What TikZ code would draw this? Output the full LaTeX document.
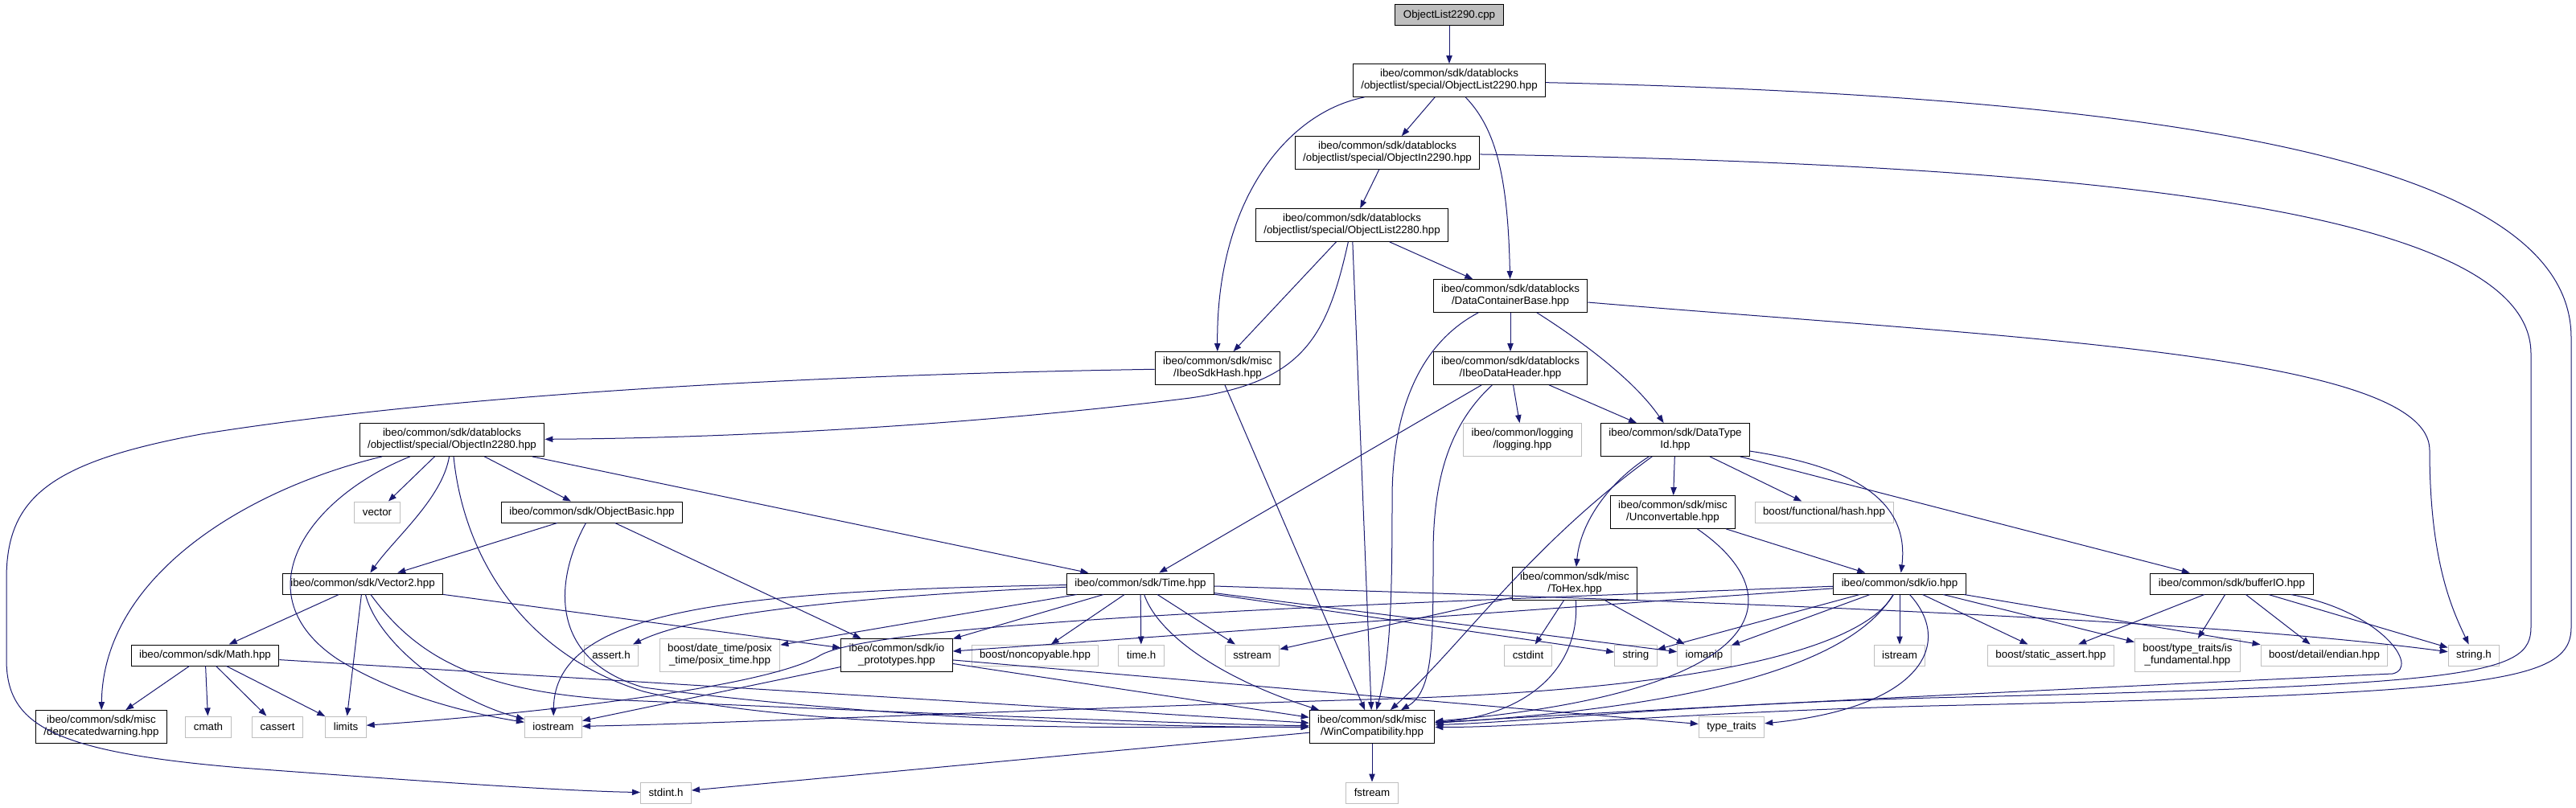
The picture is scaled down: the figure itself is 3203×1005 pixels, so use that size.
\documentclass[tikz,border=0pt]{standalone}
\usepackage{fontspec}
\setmainfont{Liberation Sans}
\usetikzlibrary{arrows.meta}
\definecolor{edgeblue}{HTML}{191970}
\definecolor{sysgray}{HTML}{BFBFBF}
\tikzstyle{hdr} = [rectangle, draw=black, fill=white, line width=0.75pt, align=center, inner xsep=7.5pt, inner ysep=5pt, minimum height=19.5pt, font=\fontsize{10}{11.25}\selectfont]
\tikzstyle{syshdr} = [hdr, draw=sysgray]
\tikzstyle{rootfile} = [hdr, fill=sysgray]
\tikzstyle{dep} = [draw=edgeblue, line width=0.75pt, -{Triangle[length=7.5pt,width=5.5pt]}]

\begin{document}
\begin{tikzpicture}[x=0.75pt, y=-0.75pt]
        \useasboundingbox (0,0) rectangle (3203,1005);
        \fill [white] (0,0) rectangle (3203,1005);

        \node (cpp) [rootfile] at (1802,19) {ObjectList2290.cpp};
        \node (ol2290) [hdr] at (1802,100) {ibeo/common/sdk/datablocks\\/objectlist/special/ObjectList2290.hpp};
        \node (oi2290) [hdr] at (1725,190) {ibeo/common/sdk/datablocks\\/objectlist/special/ObjectIn2290.hpp};
        \node (ol2280) [hdr] at (1681,280) {ibeo/common/sdk/datablocks\\/objectlist/special/ObjectList2280.hpp};
        \node (dcbase) [hdr] at (1878,368) {ibeo/common/sdk/datablocks\\/DataContainerBase.hpp};
        \node (sdkhash) [hdr] at (1514,458) {ibeo/common/sdk/misc\\/IbeoSdkHash.hpp};
        \node (dheader) [hdr] at (1878,458) {ibeo/common/sdk/datablocks\\/IbeoDataHeader.hpp};
        \node (logging) [syshdr] at (1893,547) {ibeo/common/logging\\/logging.hpp};
        \node (dtypeid) [hdr] at (2083,547) {ibeo/common/sdk/DataType\\Id.hpp};
        \node (oi2280) [hdr] at (562,547) {ibeo/common/sdk/datablocks\\/objectlist/special/ObjectIn2280.hpp};
        \node (vector) [syshdr] at (469,637) {vector};
        \node (objbasic) [hdr] at (736,637) {ibeo/common/sdk/ObjectBasic.hpp};
        \node (unconv) [hdr] at (2080,637) {ibeo/common/sdk/misc\\/Unconvertable.hpp};
        \node (fhash) [syshdr] at (2268,637) {boost/functional/hash.hpp};
        \node (vector2) [hdr] at (451,726) {ibeo/common/sdk/Vector2.hpp};
        \node (timehpp) [hdr] at (1418,726) {ibeo/common/sdk/Time.hpp};
        \node (tohex) [hdr] at (1958,726) {ibeo/common/sdk/misc\\/ToHex.hpp};
        \node (iohpp) [hdr] at (2362,726) {ibeo/common/sdk/io.hpp};
        \node (bufferio) [hdr] at (2775,726) {ibeo/common/sdk/bufferIO.hpp};
        \node (mathhpp) [hdr] at (255,815) {ibeo/common/sdk/Math.hpp};
        \node (asserth) [syshdr] at (760,815) {assert.h};
        \node (posixtime) [syshdr] at (895,815) {boost/date\_time/posix\\\_time/posix\_time.hpp};
        \node (ioproto) [hdr] at (1115,815) {ibeo/common/sdk/io\\\_prototypes.hpp};
        \node (noncopy) [syshdr] at (1287,815) {boost/noncopyable.hpp};
        \node (timeh) [syshdr] at (1419,815) {time.h};
        \node (sstream) [syshdr] at (1557,815) {sstream};
        \node (cstdint) [syshdr] at (1900,815) {cstdint};
        \node (string) [syshdr] at (2034,815) {string};
        \node (iomanip) [syshdr] at (2119,815) {iomanip};
        \node (istream) [syshdr] at (2362,815) {istream};
        \node (staticassert) [syshdr] at (2550,815) {boost/static\_assert.hpp};
        \node (isfund) [syshdr] at (2720,815) {boost/type\_traits/is\\\_fundamental.hpp};
        \node (endian) [syshdr] at (2890,815) {boost/detail/endian.hpp};
        \node (stringh) [syshdr] at (3076,815) {string.h};
        \node (deprec) [hdr] at (126,904) {ibeo/common/sdk/misc\\/deprecatedwarning.hpp};
        \node (cmath) [syshdr] at (259,904) {cmath};
        \node (cassert) [syshdr] at (345,904) {cassert};
        \node (limits) [syshdr] at (430,904) {limits};
        \node (iostream) [syshdr] at (688,904) {iostream};
        \node (wincompat) [hdr] at (1706,904) {ibeo/common/sdk/misc\\/WinCompatibility.hpp};
        \node (typetraits) [syshdr] at (2153,904) {type\_traits};
        \node (stdinth) [syshdr] at (828,986) {stdint.h};
        \node (fstream) [syshdr] at (1706,986) {fstream};

        \draw [dep] (cpp) -- (ol2290);
        \draw [dep] (ol2290) -- (oi2290);
        \draw [dep] (ol2290) .. controls (1600,140) and (1512,250) .. (sdkhash);
        \draw [dep] (ol2290) .. controls (1860,160) and (1875,220) .. (dcbase);
        \draw [dep] (ol2290) .. controls (2700,120) and (3197,200) .. (3197,420) -- (3197,780) .. controls (3197,850) and (3100,862) .. (2400,878) .. controls (2100,886) and (1900,905) .. (wincompat);
        \draw [dep] (oi2290) -- (ol2280);
        \draw [dep] (oi2290) .. controls (2600,205) and (3147,260) .. (3147,440) -- (3147,780) .. controls (3147,840) and (3080,852) .. (2400,868) .. controls (2100,876) and (1900,898) .. (wincompat);
        \draw [dep] (ol2280) -- (sdkhash);
        \draw [dep] (ol2280) -- (dcbase);
        \draw [dep] (ol2280) -- (wincompat);
        \draw [dep] (ol2280) .. controls (1650,420) and (1620,475) .. (1480,495) .. controls (1200,530) and (900,545) .. (oi2280);
        \draw [dep] (dcbase) -- (dheader);
        \draw [dep] (dcbase) .. controls (1960,420) and (2030,470) .. (dtypeid);
        \draw [dep] (dcbase) .. controls (1760,430) and (1731,520) .. (1731,620) .. controls (1731,760) and (1728,820) .. (wincompat);
        \draw [dep] (dcbase) .. controls (2500,420) and (3021,440) .. (3021,560) .. controls (3021,700) and (3050,760) .. (stringh);
        \draw [dep] (sdkhash) .. controls (900,468) and (500,500) .. (250,540) .. controls (60,575) and (8,620) .. (8,720) -- (8,820) .. controls (8,900) and (60,935) .. (300,955) .. controls (500,970) and (700,984) .. (stdinth);
        \draw [dep] (sdkhash) -- (wincompat);
        \draw [dep] (dheader) -- (logging);
        \draw [dep] (dheader) -- (dtypeid);
        \draw [dep] (dheader) -- (timehpp);
        \draw [dep] (dheader) .. controls (1800,530) and (1782,600) .. (1782,690) .. controls (1782,800) and (1782,860) .. (wincompat);
        \draw [dep] (dtypeid) -- (unconv);
        \draw [dep] (dtypeid) -- (fhash);
        \draw [dep] (dtypeid) .. controls (2000,600) and (1965,650) .. (tohex);
        \draw [dep] (dtypeid) .. controls (1900,680) and (1820,800) .. (wincompat);
        \draw [dep] (dtypeid) .. controls (2300,580) and (2375,620) .. (iohpp);
        \draw [dep] (dtypeid) -- (bufferio);
        \draw [dep] (unconv) -- (iohpp);
        \draw [dep] (unconv) .. controls (2230,740) and (2210,860) .. (wincompat);
        \draw [dep] (oi2280) .. controls (300,610) and (128,720) .. (deprec);
        \draw [dep] (oi2280) .. controls (380,620) and (300,740) .. (420,820) .. controls (500,870) and (600,890) .. (iostream);
        \draw [dep] (oi2280) -- (vector);
        \draw [dep] (oi2280) .. controls (550,620) and (490,670) .. (vector2);
        \draw [dep] (oi2280) .. controls (575,680) and (640,810) .. (800,860) .. controls (1000,910) and (1400,905) .. (wincompat);
        \draw [dep] (oi2280) -- (objbasic);
        \draw [dep] (oi2280) -- (timehpp);
        \draw [dep] (objbasic) -- (vector2);
        \draw [dep] (objbasic) .. controls (690,720) and (680,820) .. (800,855) .. controls (1100,895) and (1450,905) .. (wincompat);
        \draw [dep] (objbasic) -- (ioproto);
        \draw [dep] (vector2) -- (mathhpp);
        \draw [dep] (vector2) -- (limits);
        \draw [dep] (vector2) .. controls (470,800) and (560,870) .. (iostream);
        \draw [dep] (vector2) .. controls (520,820) and (600,865) .. (800,872) .. controls (1100,885) and (1450,900) .. (wincompat);
        \draw [dep] (vector2) -- (ioproto);
        \draw [dep] (mathhpp) -- (deprec);
        \draw [dep] (mathhpp) -- (cmath);
        \draw [dep] (mathhpp) -- (cassert);
        \draw [dep] (mathhpp) -- (limits);
        \draw [dep] (mathhpp) -- (wincompat);
        \draw [dep] (timehpp) .. controls (1000,745) and (850,770) .. (asserth);
        \draw [dep] (timehpp) .. controls (900,735) and (690,760) .. (iostream);
        \draw [dep] (timehpp) -- (posixtime);
        \draw [dep] (timehpp) -- (ioproto);
        \draw [dep] (timehpp) -- (noncopy);
        \draw [dep] (timehpp) -- (timeh);
        \draw [dep] (timehpp) -- (sstream);
        \draw [dep] (timehpp) .. controls (1440,790) and (1520,845) .. (wincompat);
        \draw [dep] (timehpp) -- (string);
        \draw [dep] (timehpp) -- (iomanip);
        \draw [dep] (timehpp) .. controls (2000,745) and (2700,765) .. (stringh);
        \draw [dep] (tohex) -- (cstdint);
        \draw [dep] (tohex) -- (iomanip);
        \draw [dep] (tohex) -- (sstream);
        \draw [dep] (tohex) .. controls (1965,830) and (1900,890) .. (wincompat);
        \draw [dep] (iohpp) -- (ioproto);
        \draw [dep] (iohpp) .. controls (1800,748) and (1100,770) .. (1020,815) .. controls (960,852) and (700,885) .. (limits);
        \draw [dep] (iohpp) -- (string);
        \draw [dep] (iohpp) -- (iomanip);
        \draw [dep] (iohpp) .. controls (2320,800) and (2150,858) .. (1700,870) .. controls (1300,882) and (900,900) .. (iostream);
        \draw [dep] (iohpp) .. controls (2300,830) and (2100,880) .. (wincompat);
        \draw [dep] (iohpp) -- (istream);
        \draw [dep] (iohpp) .. controls (2430,800) and (2390,880) .. (typetraits);
        \draw [dep] (iohpp) -- (staticassert);
        \draw [dep] (iohpp) -- (isfund);
        \draw [dep] (iohpp) -- (endian);
        \draw [dep] (bufferio) -- (staticassert);
        \draw [dep] (bufferio) -- (isfund);
        \draw [dep] (bufferio) -- (endian);
        \draw [dep] (bufferio) -- (stringh);
        \draw [dep] (bufferio) .. controls (2960,760) and (3010,830) .. (2975,838) .. controls (2500,860) and (2000,885) .. (wincompat);
        \draw [dep] (ioproto) -- (iostream);
        \draw [dep] (ioproto) -- (wincompat);
        \draw [dep] (ioproto) -- (typetraits);
        \draw [dep] (wincompat) -- (fstream);
        \draw [dep] (wincompat) -- (stdinth);
    \end{tikzpicture}
\end{document}
